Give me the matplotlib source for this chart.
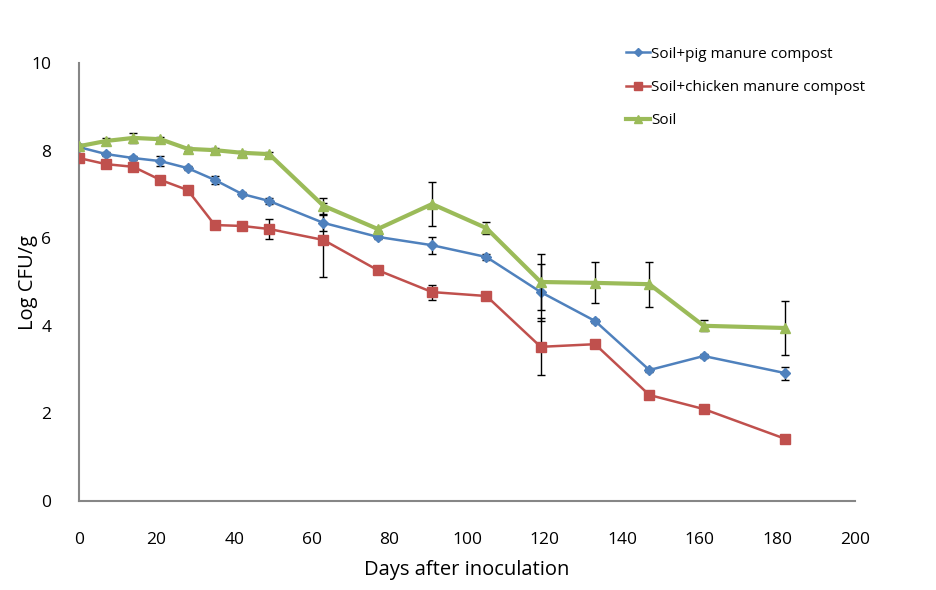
import matplotlib
matplotlib.use("Agg")
import matplotlib.pyplot as plt

days = [0, 7, 14, 21, 28, 35, 42, 49, 63, 77, 91, 105, 119, 133, 147, 161, 182]

pig = [8.08, 7.92, 7.83, 7.76, 7.60, 7.33, 7.01, 6.85, 6.35, 6.03, 5.84, 5.57, 4.77, 4.11, 2.99, 3.31, 2.92]
pig_err = [0.03, 0.05, 0.05, 0.12, 0.05, 0.10, 0.04, 0.07, 0.19, 0.04, 0.19, 0.06, 0.65, 0.05, 0.05, 0.05, 0.15]

chicken = [7.83, 7.69, 7.63, 7.33, 7.10, 6.30, 6.28, 6.21, 5.96, 5.27, 4.77, 4.68, 3.52, 3.58, 2.42, 2.10, 1.42]
chicken_err = [0.05, 0.05, 0.10, 0.05, 0.06, 0.05, 0.07, 0.22, 0.84, 0.04, 0.17, 0.04, 0.65, 0.04, 0.04, 0.04, 0.04]

soil = [8.10, 8.22, 8.29, 8.26, 8.04, 8.01, 7.95, 7.92, 6.74, 6.21, 6.78, 6.23, 5.00, 4.98, 4.95, 4.00, 3.95]
soil_err = [0.05, 0.07, 0.11, 0.05, 0.05, 0.05, 0.04, 0.04, 0.18, 0.05, 0.51, 0.13, 0.65, 0.47, 0.51, 0.13, 0.61]

x_ticks = [0, 20, 40, 60, 80, 100, 120, 140, 160, 180, 200]
y_ticks = [0, 2, 4, 6, 8, 10]

plt.rcParams["font.family"] = ["Open Sans", "DejaVu Sans"]

fig = plt.figure(figsize=(9.36, 5.9), dpi=100)
ax = fig.add_axes([79 / 936, 1 - 501 / 590, (855 - 79) / 936, (501 - 63) / 590])

err_kw = dict(ecolor="black", elinewidth=1.0, capsize=3, capthick=1.0)
ax.errorbar(days, pig, yerr=pig_err, color="#4F81BD", marker="D", markersize=5,
            linewidth=1.8, label="Soil+pig manure compost", zorder=3, **err_kw)
ax.errorbar(days, chicken, yerr=chicken_err, color="#C0504D", marker="s", markersize=7.5,
            linewidth=1.8, label="Soil+chicken manure compost", zorder=3, **err_kw)
ax.errorbar(days, soil, yerr=soil_err, color="#9BBB59", marker="^", markersize=7,
            linewidth=3.0, label="Soil", zorder=4, **err_kw)

ax.set_xlim(0, 200)
ax.set_ylim(0, 10)
ax.set_xticks(x_ticks)
ax.set_yticks(y_ticks)
ax.tick_params(axis="x", length=0, pad=22, labelsize=12.5)
ax.tick_params(axis="y", length=0, pad=20, labelsize=12.5)
for side in ["top", "right"]:
    ax.spines[side].set_visible(False)
for side in ["left", "bottom"]:
    ax.spines[side].set_color("#868686")
    ax.spines[side].set_linewidth(1.5)

ax.set_xlabel("Days after inoculation", fontsize=14.5, labelpad=9)
ax.set_ylabel("Log CFU/g", fontsize=14.5, labelpad=-5)

handles, labels = ax.get_legend_handles_labels()
handles = [h[0] for h in handles]
fig.legend(handles, labels, loc="upper left", bbox_to_anchor=(612 / 936, 1 - 33 / 590),
           frameon=False, fontsize=11, labelspacing=1.2, handlelength=1.6,
           handletextpad=0.05, markerscale=0.8)

fig.savefig("out.png", dpi=100)
